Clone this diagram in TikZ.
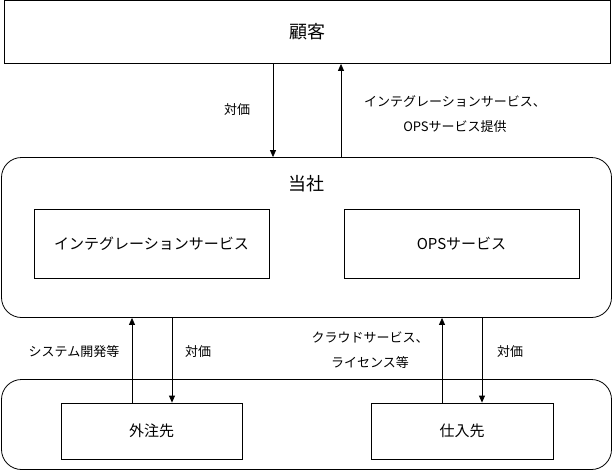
\documentclass[tikz,border=0pt]{standalone}
\usepackage{fontspec}
\setmainfont{Noto Sans CJK JP}
\usetikzlibrary{arrows.meta}
\begin{document}
\begin{tikzpicture}[x=1pt,y=-1pt,
  box/.style={draw,line width=0.8pt,inner sep=0pt},
  rbox/.style={box,rounded corners=20pt},
  arr/.style={-{Triangle[width=6pt,length=7pt]},line width=0.8pt},
  big/.style={font=\fontsize{18}{22}\selectfont},
  mid/.style={font=\fontsize{15}{18}\selectfont},
  lbl/.style={font=\fontsize{13}{25}\selectfont,align=center},
  ]
\useasboundingbox (0,0) rectangle (613,471);
% boxes
\node[box,big,minimum width=606pt,minimum height=63pt] (kokyaku) at (307.5,32) {顧客};
\node[rbox,minimum width=610pt,minimum height=160pt] (tosha) at (306.5,237.5) {};
\node[big] (toshaT) at (306.5,184) {当社};
\node[box,mid,minimum width=235pt,minimum height=69pt] (integ) at (151.5,244) {インテグレーションサービス};
\node[box,mid,minimum width=235pt,minimum height=69pt] (ops) at (461.5,244) {OPSサービス};
\node[rbox,minimum width=610pt,minimum height=90pt] (partners) at (306.5,424.5) {};
\node[box,mid,minimum width=181pt,minimum height=56pt] (gaichu) at (151.5,431) {外注先};
\node[box,mid,minimum width=182pt,minimum height=56pt] (shiire) at (462,431) {仕入先};
% arrow columns
\coordinate (c1) at (273,0);
\coordinate (c2) at (341,0);
\coordinate (c3) at (132,0);
\coordinate (c4) at (172,0);
\coordinate (c5) at (442,0);
\coordinate (c6) at (482,0);
\draw[arr] (kokyaku.south -| c1) -- (tosha.north -| c1);
\draw[arr] (tosha.north -| c2) -- (kokyaku.south -| c2);
\draw[arr] (gaichu.north -| c3) -- (tosha.south -| c3);
\draw[arr] (tosha.south -| c4) -- (gaichu.north -| c4);
\draw[arr] (shiire.north -| c5) -- (tosha.south -| c5);
\draw[arr] (tosha.south -| c6) -- (shiire.north -| c6);
% labels
\node[lbl] (l1) at (237,110) {対価};
\node[lbl] (l2) at (455,114.5) {インテグレーションサービス、\\OPSサービス提供};
\node[lbl] (l3) at (74,352) {システム開発等};
\node[lbl] (l4) at (198,352) {対価};
\node[lbl] (l5) at (370,350) {クラウドサービス、\\ライセンス等};
\node[lbl] (l6) at (510,352) {対価};
\end{tikzpicture}
\end{document}
